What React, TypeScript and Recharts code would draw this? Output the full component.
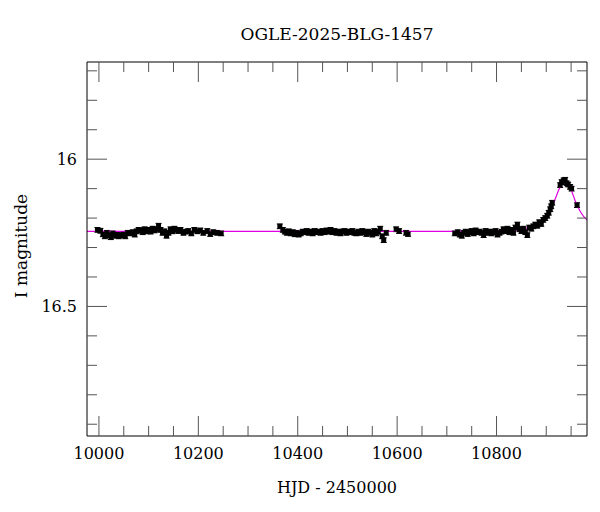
import { ComposedChart, Scatter, Line, XAxis, YAxis, ErrorBar, Label } from "recharts";

const TITLE = "OGLE-2025-BLG-1457";
const X_TITLE = "HJD - 2450000";
const Y_TITLE = "I magnitude";

const xTicks = [10000, 10050, 10100, 10150, 10200, 10250, 10300, 10350, 10400, 10450, 10500, 10550, 10600, 10650, 10700, 10750, 10800, 10850, 10900, 10950];
const xMajor = [10000, 10200, 10400, 10600, 10800];
const yTicks = [15.7, 15.8, 15.9, 16, 16.1, 16.2, 16.3, 16.4, 16.5, 16.6, 16.7, 16.8, 16.9];
const yMajor = [16, 16.5];

// observations: HJD-2450000, I mag, error
const obsDays = [
  9997, 10003, 10008, 10012, 10016, 10020, 10024, 10028, 10032, 10036, 10040, 10045, 10049, 10053, 10058, 10063, 10068, 10072, 10076, 10080,
  10084, 10088, 10092, 10096, 10100, 10104, 10108, 10112, 10116, 10120, 10124, 10128, 10132, 10136, 10140, 10144, 10148, 10152, 10156, 10160,
  10164, 10170, 10175, 10180, 10186, 10192, 10198, 10204, 10210, 10218, 10224, 10230, 10238, 10246,
  10364, 10370, 10374, 10378, 10382, 10386, 10390, 10394, 10398, 10402, 10406, 10410, 10414, 10418, 10422, 10426, 10430, 10434, 10438, 10442,
  10446, 10450, 10454, 10458, 10462, 10466, 10470, 10474, 10478, 10482, 10486, 10490, 10494, 10498, 10502, 10506, 10510, 10514, 10518, 10522,
  10526, 10530, 10534, 10538, 10542, 10546, 10550, 10554, 10558, 10562, 10566, 10570, 10573, 10578, 10598, 10604, 10618, 10622,
  10716, 10722, 10726, 10730, 10734, 10738, 10742, 10746, 10750, 10754, 10758, 10762, 10766, 10770, 10774, 10778, 10782, 10786, 10790, 10794,
  10798, 10802, 10806, 10810, 10814, 10818, 10822, 10826, 10830, 10834, 10838, 10842, 10846, 10850, 10854, 10858, 10862, 10866, 10870, 10874,
  10878, 10882, 10886, 10890, 10894, 10898, 10902, 10905, 10908, 10910, 10912, 10928, 10931, 10935, 10938, 10941, 10944, 10948, 10951, 10962,
];
const obsMags = [
  16.24, 16.243, 16.255, 16.262, 16.25, 16.258, 16.265, 16.252, 16.26, 16.256, 16.262, 16.258, 16.255, 16.262, 16.25, 16.252, 16.248, 16.256, 16.245, 16.24,
  16.242, 16.248, 16.238, 16.245, 16.24, 16.246, 16.236, 16.242, 16.238, 16.226, 16.24, 16.25, 16.245, 16.26, 16.25, 16.238, 16.245, 16.236, 16.24, 16.244,
  16.24, 16.25, 16.246, 16.244, 16.252, 16.24, 16.245, 16.242, 16.25, 16.244, 16.254, 16.248, 16.25, 16.252,
  16.228, 16.24, 16.246, 16.25, 16.245, 16.252, 16.248, 16.255, 16.25, 16.256, 16.252, 16.246, 16.248, 16.244, 16.25, 16.246, 16.252, 16.244, 16.248, 16.246,
  16.25, 16.244, 16.248, 16.242, 16.246, 16.24, 16.248, 16.244, 16.25, 16.246, 16.252, 16.246, 16.244, 16.25, 16.246, 16.248, 16.244, 16.25, 16.252, 16.246,
  16.25, 16.244, 16.248, 16.254, 16.246, 16.25, 16.256, 16.244, 16.252, 16.246, 16.236, 16.262, 16.275, 16.25, 16.238, 16.244, 16.25, 16.254,
  16.252, 16.248, 16.256, 16.26, 16.25, 16.246, 16.254, 16.248, 16.244, 16.252, 16.242, 16.248, 16.246, 16.25, 16.258, 16.244, 16.25, 16.246, 16.252, 16.248,
  16.244, 16.256, 16.25, 16.246, 16.238, 16.244, 16.236, 16.248, 16.24, 16.25, 16.232, 16.222, 16.238, 16.244, 16.236, 16.248, 16.258, 16.232, 16.236, 16.228,
  16.222, 16.226, 16.214, 16.22, 16.206, 16.2, 16.192, 16.182, 16.17, 16.16, 16.148, 16.088, 16.078, 16.072, 16.07, 16.082, 16.086, 16.094, 16.1, 16.156,
];
const obsErr = 0.008;

// model curve
const modelDays = [9976, 10700, 10800, 10840, 10860, 10870, 10880, 10890, 10900, 10910, 10918, 10925, 10930, 10935, 10938, 10942, 10947, 10952, 10958, 10964, 10970, 10976, 10982];
const modelMags = [16.245, 16.245, 16.243, 16.24, 16.234, 16.228, 16.22, 16.208, 16.19, 16.165, 16.135, 16.105, 16.088, 16.078, 16.076, 16.08, 16.093, 16.112, 16.14, 16.163, 16.182, 16.196, 16.206];

const obs = obsDays.map((d, i) => ({ day: d, mag: obsMags[i], err: obsErr }));
const model = modelDays.map((d, i) => ({ day: d, mag: modelMags[i] }));

const FONT = "'DejaVu Serif', serif";
const TICK = "#555";

const LeftTick = ({ x, y, payload }: any) => {
  const major = yMajor.includes(payload.value);
  return (
    <g>
      <line x1={x} x2={x + (major ? 20 : 10)} y1={y} y2={y} stroke={TICK} />
      {major && (
        <text x={x - 10} y={y} dy="0.36em" textAnchor="end" fontFamily={FONT} fontSize={16} fill="#000">
          {String(payload.value)}
        </text>
      )}
    </g>
  );
};

const RightTick = ({ x, y, payload }: any) => {
  const major = yMajor.includes(payload.value);
  return <line x1={x} x2={x - (major ? 20 : 10)} y1={y} y2={y} stroke={TICK} />;
};

const BottomTick = ({ x, y, payload }: any) => {
  const major = xMajor.includes(payload.value);
  return (
    <g>
      <line x1={x} x2={x} y1={y} y2={y - (major ? 20 : 10)} stroke={TICK} />
      {major && (
        <text x={x} y={y + 23} textAnchor="middle" fontFamily={FONT} fontSize={16} fill="#000">
          {String(payload.value)}
        </text>
      )}
    </g>
  );
};

const TopTick = ({ x, y, payload }: any) => {
  const major = xMajor.includes(payload.value);
  return <line x1={x} x2={x} y1={y} y2={y + (major ? 20 : 10)} stroke={TICK} />;
};

const Square = ({ cx, cy }: any) => <rect x={cx - 2.5} y={cy - 2.5} width={5} height={5} fill="#000" />;

export default function App() {
  return (
    <div style={{ position: "absolute", left: 0, top: 0, width: 600, height: 512, background: "#fff" }}>
      <ComposedChart width={600} height={512} margin={{ top: 32, right: 8, bottom: 36, left: 57 }}>
        <XAxis
          xAxisId="b"
          dataKey="day"
          type="number"
          domain={[9976, 10982]}
          allowDataOverflow
          ticks={xTicks}
          interval={0}
          tickSize={0}
          tickMargin={0}
          tickLine={false}
          tick={<BottomTick />}
          height={40}
          stroke="#000"
        >
          <Label
            content={({ viewBox }: any) => (
              <text x={viewBox.x + viewBox.width / 2} y={viewBox.y + 57} textAnchor="middle" fontFamily={FONT} fontSize={16} fill="#000">
                {X_TITLE}
              </text>
            )}
          />
        </XAxis>
        <XAxis
          xAxisId="t"
          orientation="top"
          dataKey="day"
          type="number"
          domain={[9976, 10982]}
          allowDataOverflow
          ticks={xTicks}
          interval={0}
          tickSize={0}
          tickMargin={0}
          tickLine={false}
          tick={<TopTick />}
          height={30}
          stroke="#000"
        >
          <Label
            content={({ viewBox }: any) => (
              <text x={viewBox.x + viewBox.width / 2} y={viewBox.y + 8} textAnchor="middle" fontFamily={FONT} fontSize={17} fill="#000">
                {TITLE}
              </text>
            )}
          />
        </XAxis>
        <YAxis
          yAxisId="l"
          dataKey="mag"
          type="number"
          reversed
          domain={[15.67, 16.94]}
          allowDataOverflow
          ticks={yTicks}
          interval={0}
          tickSize={0}
          tickMargin={0}
          tickLine={false}
          tick={<LeftTick />}
          width={30}
          stroke="#000"
        >
          <Label
            content={({ viewBox }: any) => {
              const cx = 21;
              const cy = viewBox.y + viewBox.height / 2 - 3;
              return (
                <text x={cx} y={cy} dy="0.36em" transform={`rotate(-90 ${cx} ${cy})`} textAnchor="middle" fontFamily={FONT} fontSize={17} fill="#000">
                  {Y_TITLE}
                </text>
              );
            }}
          />
        </YAxis>
        <YAxis
          yAxisId="r"
          orientation="right"
          dataKey="mag"
          type="number"
          reversed
          domain={[15.67, 16.94]}
          allowDataOverflow
          ticks={yTicks}
          interval={0}
          tickSize={0}
          tickMargin={0}
          tickLine={false}
          tick={<RightTick />}
          width={5}
          stroke="#000"
        />
        <Scatter data={obs} xAxisId="b" yAxisId="l" shape={<Square />} isAnimationActive={false}>
          <ErrorBar dataKey="err" direction="y" width={3} stroke="#000" strokeWidth={1} />
        </Scatter>
        <Line
          data={model}
          dataKey="mag"
          xAxisId="b"
          yAxisId="l"
          type="monotone"
          stroke="#e000e0"
          strokeWidth={1.2}
          dot={false}
          isAnimationActive={false}
        />
      </ComposedChart>
    </div>
  );
}
